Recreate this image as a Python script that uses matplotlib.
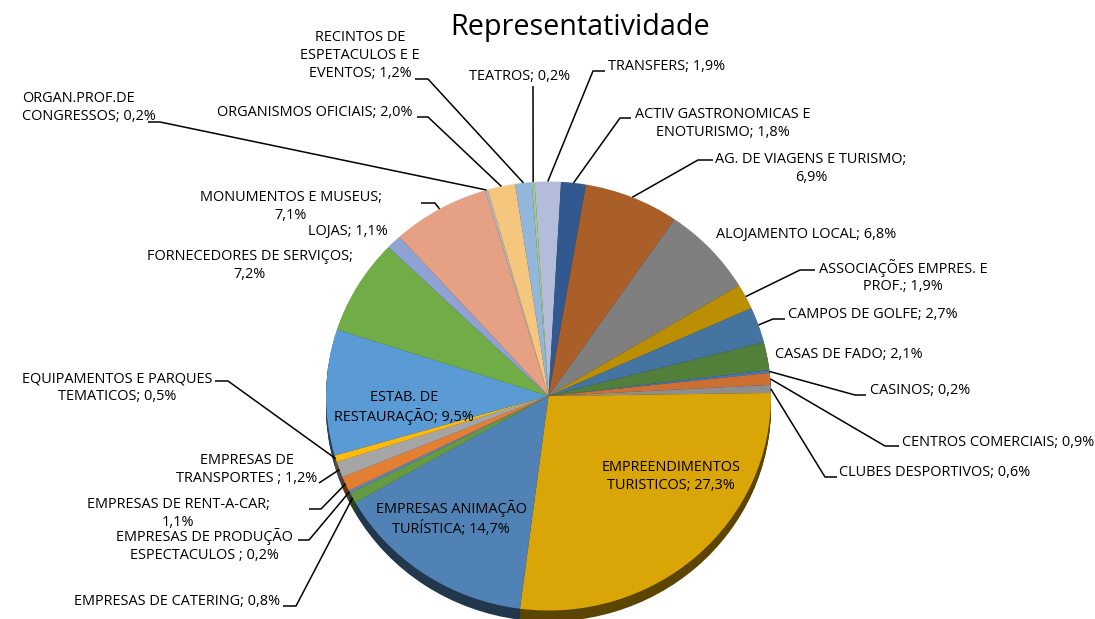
import numpy as np
import matplotlib
matplotlib.use("Agg")
import matplotlib.pyplot as plt
import matplotlib.colors as mc

plt.rcParams['font.family'] = ['Open Sans', 'DejaVu Sans']

title = "Representatividade"
categories = ["TRANSFERS", "ACTIV GASTRONOMICAS E\nENOTURISMO", "AG. DE VIAGENS E TURISMO",
              "ALOJAMENTO LOCAL", "ASSOCIAÇÕES EMPRES. E\nPROF.", "CAMPOS DE GOLFE", "CASAS DE FADO",
              "CASINOS", "CENTROS COMERCIAIS", "CLUBES DESPORTIVOS", "EMPREENDIMENTOS\nTURISTICOS",
              "EMPRESAS ANIMAÇÃO\nTURÍSTICA", "EMPRESAS DE CATERING", "EMPRESAS DE PRODUÇÃO\nESPECTACULOS ",
              "EMPRESAS DE RENT-A-CAR", "EMPRESAS DE\nTRANSPORTES ", "EQUIPAMENTOS E PARQUES\nTEMATICOS",
              "ESTAB. DE\nRESTAURAÇÃO", "FORNECEDORES DE SERVIÇOS", "LOJAS", "MONUMENTOS E MUSEUS",
              "ORGAN.PROF.DE\nCONGRESSOS", "ORGANISMOS OFICIAIS", "RECINTOS DE\nESPETACULOS E E\nEVENTOS", "TEATROS"]
values = [1.9, 1.8, 6.9, 6.8, 1.9, 2.7, 2.1, 0.2, 0.9, 0.6, 27.3, 14.7, 0.8, 0.2, 1.1, 1.2, 0.5,
          9.5, 7.2, 1.1, 7.1, 0.2, 2.0, 1.2, 0.2]
colors = ["#B3BCD9", "#32598F", "#AB5F28", "#7F7F7F", "#BC8E04", "#44749F", "#52803A", "#4472C4", "#CC7032",
          "#8E8E8E", "#DAA507", "#5082B6", "#659A42", "#5B85C8", "#E37F33", "#A5A5A5", "#FDBA0B", "#5B9BD5",
          "#70AD47", "#8FA2D4", "#E6A084", "#B5B5B5", "#F5C77E", "#93B6DB", "#A5C98D"]

# layout (pixels): label anchor, alignment, elbow points of the leader
W, H = 1095, 619
CX, CY, RX, RY, DEPTH = 548.5, 396.0, 222.5, 214.5, 11.0
START_DEG = 93.6
layout = {
    0: dict(xy=(608, 65), ha='left', pts=[(593, 71), (605, 71)]),
    1: dict(xy=(723, 122), ha='center', pts=[(620, 118), (631, 118)]),
    2: dict(xy=(811, 167), ha='center', pts=[(698, 160), (713, 160)]),
    3: dict(xy=(806, 233), ha='center'),
    4: dict(xy=(903, 275), ha='center', pts=[(800, 270), (815, 270)]),
    5: dict(xy=(873, 313), ha='center', pts=[(773, 319), (785, 319)]),
    6: dict(xy=(849, 353), ha='center'),
    7: dict(xy=(920, 389), ha='center', pts=[(855, 395), (866, 395)]),
    8: dict(xy=(998, 441), ha='center', pts=[(885, 446), (899, 446)]),
    9: dict(xy=(935, 471), ha='center', pts=[(825, 477), (837, 477)]),
    10: dict(xy=(671, 475), ha='center'),
    11: dict(xy=(451, 517), ha='center'),
    12: dict(xy=(177, 600), ha='center', pts=[(296, 606), (283, 606)]),
    13: dict(xy=(204, 544), ha='center', pts=[(309, 540), (298, 540)]),
    14: dict(xy=(178, 512), ha='center', pts=[(321, 509), (309, 509)]),
    15: dict(xy=(247, 468), ha='center', pts=[(319, 483)]),
    16: dict(xy=(117, 386), ha='center', pts=[(228, 381), (215, 381)]),
    17: dict(xy=(404, 406), ha='center'),
    18: dict(xy=(250, 264), ha='center'),
    19: dict(xy=(348, 230), ha='center'),
    20: dict(xy=(291, 205), ha='center', pts=[(435, 203), (421, 203)]),
    21: dict(xy=(22, 106), ha='left', pts=[(160, 122), (148, 122)]),
    22: dict(xy=(315, 111), ha='center', pts=[(428, 117), (417, 117)]),
    23: dict(xy=(360, 54), ha='center', pts=[(428, 79), (415, 79)]),
    24: dict(xy=(520, 75), ha='center', pts=[(533, 86)]),
}
special_text = {2: "AG. DE VIAGENS E TURISMO;\n6,9%", 18: "FORNECEDORES DE SERVIÇOS;\n7,2%",
                20: "MONUMENTOS E MUSEUS;\n7,1%", 14: "EMPRESAS DE RENT-A-CAR;\n1,1%"}

fig = plt.figure(figsize=(W / 100, H / 100), dpi=100, facecolor='white')
# pie axes: data range -1..1 spans the ellipse, with room below for the rim
ax = fig.add_axes([(CX - RX) / W, 1 - (CY + RY + DEPTH) / H, 2 * RX / W, (2 * RY + DEPTH) / H])
dark = [tuple(c * 0.42 for c in mc.to_rgb(col)) for col in colors]
for off in np.linspace(DEPTH / RY, 0, 12)[:-1]:
    ax.pie(values, colors=dark, startangle=START_DEG, counterclock=False, center=(0, -off),
           radius=1, normalize=True, wedgeprops=dict(linewidth=0))
ax.pie(values, colors=colors, startangle=START_DEG, counterclock=False, radius=1, normalize=True,
       wedgeprops=dict(linewidth=0))
ax.set_aspect('auto')
ax.set_xlim(-1, 1)
ax.set_ylim(-1 - DEPTH / RY, 1)

ov = fig.add_axes([0, 0, 1, 1], facecolor='none')
ov.set_xlim(0, W)
ov.set_ylim(H, 0)
ov.axis('off')
ov.text(580, 27, title, ha='center', va='center', fontsize=20.7, color='black')

total = sum(values)
cum = 0
for i, (cat, v) in enumerate(zip(categories, values)):
    mid = np.deg2rad(START_DEG - (cum + v / 2) / total * 360)
    cum += v
    txt = special_text.get(i, f"{cat}; {str(v).replace('.', ',')}%")
    lay = layout[i]
    ov.text(lay['xy'][0], lay['xy'][1] + 1.5, txt, ha=lay['ha'], va='center', fontsize=10.45, color='black',
            multialignment=lay['ha'], linespacing=1.27)
    if 'pts' in lay:
        ax0 = CX + RX * np.cos(mid)
        ay0 = CY - RY * np.sin(mid)
        xs = [ax0] + [p[0] for p in lay['pts']]
        ys = [ay0] + [p[1] for p in lay['pts']]
        ov.plot(xs, ys, color='black', lw=1.1, solid_capstyle='butt')

fig.savefig("out.png", dpi=100)
